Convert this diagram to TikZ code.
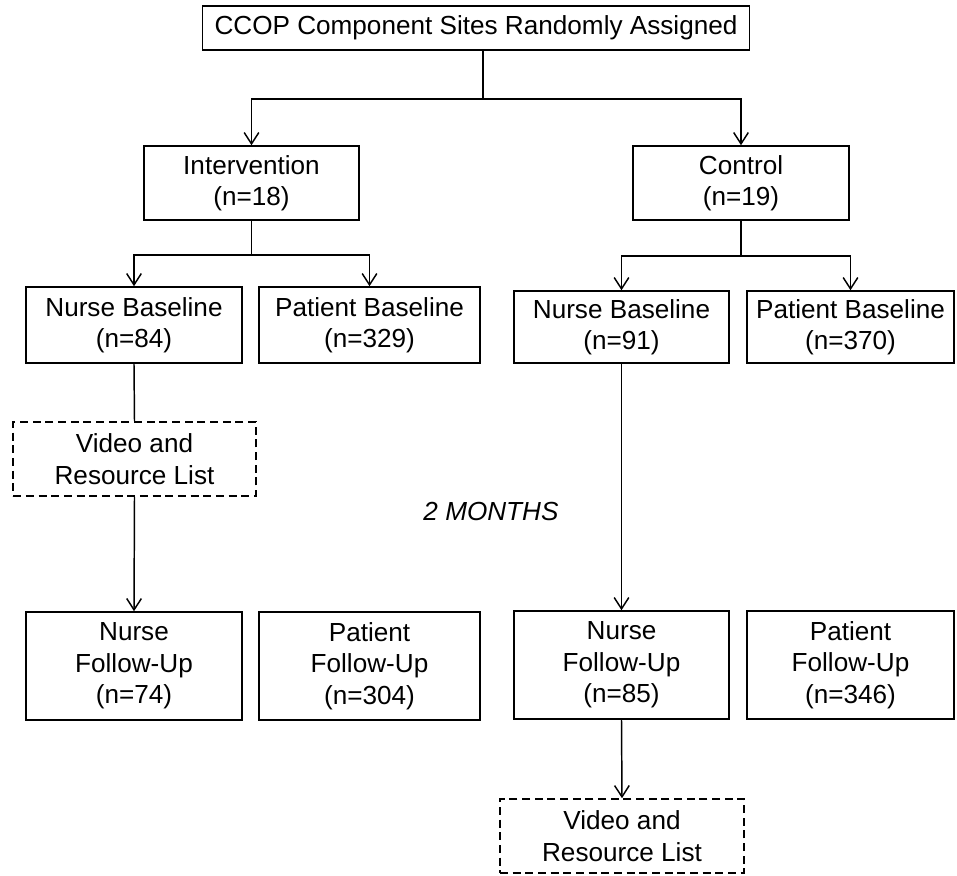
\documentclass[tikz,border=0pt]{standalone}
\usepackage{fontspec}
\setmainfont{Liberation Sans}
\usetikzlibrary{arrows.meta}

\begin{document}
\begin{tikzpicture}[x=0.75pt,y=-0.75pt,
	font=\fontsize{19.6}{23.6}\selectfont,
	box/.style={draw,line width=1.2pt,inner sep=0pt,align=center},
	dbox/.style={box,dash pattern=on 6pt off 3.5pt},
	link/.style={line width=1.1pt},
	arr/.style={link,-{Straight Barb[length=8.5pt,width=11pt,line width=1.1pt]}}]
	\useasboundingbox (0,0) rectangle (957,875);
	% top of the tree
	\node[box,minimum width=410pt,minimum height=33pt] (sites) at (476,28) {CCOP Component Sites Randomly Assigned};
	\node[box,minimum width=161pt,minimum height=55.5pt] (intv) at (251.5,183) {Intervention\\(n=18)};
	\node[box,minimum width=162pt,minimum height=55.5pt] (ctrl) at (741,183) {Control\\(n=19)};
	% baselines
	\node[box,minimum width=162pt,minimum height=57pt] (nbi) at (134,325) {Nurse Baseline\\(n=84)};
	\node[box,minimum width=166pt,minimum height=57pt] (pbi) at (369.5,325) {Patient Baseline\\(n=329)};
	\node[box,minimum width=161pt,minimum height=54pt] (nbc) at (621.5,327) {Nurse Baseline\\(n=91)};
	\node[box,minimum width=155pt,minimum height=54pt] (pbc) at (850.5,327) {Patient Baseline\\(n=370)};
	% video
	\node[dbox,minimum width=182pt,minimum height=55.5pt] (vidi) at (134.5,459) {Video and\\Resource List};
	\node[font=\fontsize{19.6}{23.6}\selectfont\itshape] (months) at (491,511) {2 MONTHS};
	% follow-up
	\node[box,minimum width=162pt,minimum height=81pt] (nfi) at (134,666) {Nurse\\Follow-Up\\(n=74)};
	\node[box,minimum width=166pt,minimum height=81pt] (pfi) at (369.5,666) {Patient\\Follow-Up\\(n=304)};
	\node[box,minimum width=161pt,minimum height=81pt] (nfc) at (621.5,665) {Nurse\\Follow-Up\\(n=85)};
	\node[box,minimum width=155pt,minimum height=81pt] (pfc) at (850.5,665) {Patient\\Follow-Up\\(n=346)};
	\node[dbox,minimum width=183pt,minimum height=55.5pt] (vidc) at (622,836) {Video and\\Resource List};
	% branch points
	\coordinate (s1) at (483,99);
	\coordinate (s2) at (251.5,255);
	\coordinate (s3) at (741,256);
	\draw[link] (sites.south -| s1) -- (s1);
	\draw[arr] (s1) -| (intv.north);
	\draw[arr] (s1) -| (ctrl.north);
	\draw[link] (intv.south) -- (s2);
	\draw[arr] (s2) -| (nbi.north);
	\draw[arr] (s2) -| (pbi.north);
	\draw[link] (ctrl.south) -- (s3);
	\draw[arr] (s3) -| (nbc.north);
	\draw[arr] (s3) -| (pbc.north);
	\draw[link] (nbi.south) -- (vidi.north);
	\draw[arr] (vidi.south) -- (nfi.north);
	\draw[arr] (nbc.south) -- (nfc.north);
	\draw[arr] (nfc.south) -- (vidc.north);
\end{tikzpicture}
\end{document}
